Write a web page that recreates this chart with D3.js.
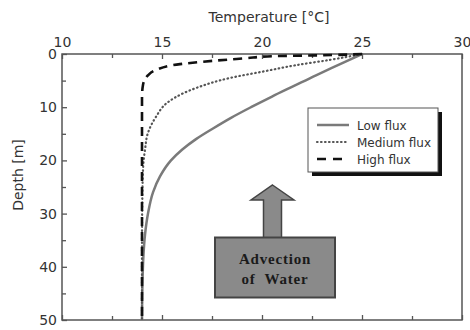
<!DOCTYPE html>
<html>
<head>
<meta charset="utf-8">
<script src="https://cdn.jsdelivr.net/npm/d3@7"></script>
<style>
  html, body { margin: 0; padding: 0; background: #fff; }
  svg { display: block; }
</style>
</head>
<body>
<svg id="chart" width="470" height="330"></svg>
<script>
// ---- Data ----
const xTicks = [10, 15, 20, 25, 30];
const xMinorTicks = [12.5, 17.5, 22.5, 27.5];
const yTicks = [0, 10, 20, 30, 40, 50];
const yMinorTicks = [5, 15, 25, 35, 45];

const seriesNames = ["Low flux", "Medium flux", "High flux"];

const lowDepth = [0, 2, 4, 6, 8, 10, 12, 14, 16, 18, 20, 23, 26, 30, 34, 38, 42, 50];
const lowTemp  = [25, 23.85, 22.7, 21.6, 20.5, 19.45, 18.45, 17.55, 16.7, 16.0, 15.45, 14.9, 14.55, 14.3, 14.15, 14.07, 14.03, 14.0];

const medDepth = [0, 1.1, 2.1, 3.3, 4.5, 6.4, 8.3, 9.2, 11.8, 14.8, 18, 21, 26, 35, 50];
const medTemp  = [25, 23.4, 21.7, 20.05, 18.4, 16.7, 15.6, 15.25, 14.7, 14.3, 14.15, 14.06, 14.02, 14.0, 14.0];

const highDepth = [0, 0.2, 0.4, 0.8, 1.45, 1.9, 3.0, 4.0, 5.8, 8, 50];
const highTemp  = [25, 23.5, 20.6, 19.2, 17.05, 15.9, 14.7, 14.3, 14.05, 14.0, 14.0];

const boxLines = ["Advection", "of  Water"];

// ---- Layout ----
const svg = d3.select("#chart");
const L = 62, R = 462, T = 54, B = 320;
const x = d3.scaleLinear().domain([10, 30]).range([L, R]);
const y = d3.scaleLinear().domain([0, 50]).range([T, B]);

const axisColor = "#555";
const textColor = "#333";
const font = "DejaVu Sans, Verdana, sans-serif";

// frame
svg.append("rect").attr("x", L).attr("y", T).attr("width", R - L).attr("height", B - T)
  .attr("fill", "none").attr("stroke", axisColor).attr("stroke-width", 1.5);

function styleAxis(g) {
  g.select(".domain").remove();
  g.selectAll(".tick line").attr("stroke", axisColor).attr("stroke-width", 1.3);
  g.selectAll("text").attr("fill", textColor).attr("font-family", font).attr("font-size", 14);
}

// top axis
svg.append("g").attr("transform", `translate(0,${T})`)
  .call(d3.axisTop(x).tickValues(xTicks).tickSize(-5).tickPadding(7).tickFormat(d3.format("d")))
  .call(styleAxis);
svg.append("g").attr("transform", `translate(0,${T})`)
  .call(d3.axisTop(x).tickValues(xMinorTicks).tickSize(-4).tickFormat(""))
  .call(styleAxis);
// bottom axis (ticks only)
svg.append("g").attr("transform", `translate(0,${B})`)
  .call(d3.axisBottom(x).tickValues(xTicks).tickSize(-5).tickFormat(""))
  .call(styleAxis);
svg.append("g").attr("transform", `translate(0,${B})`)
  .call(d3.axisBottom(x).tickValues(xMinorTicks).tickSize(-4).tickFormat(""))
  .call(styleAxis);
// left axis
svg.append("g").attr("transform", `translate(${L},0)`)
  .call(d3.axisLeft(y).tickValues(yTicks).tickSize(-5).tickPadding(5).tickFormat(d3.format("d")))
  .call(styleAxis);
svg.append("g").attr("transform", `translate(${L},0)`)
  .call(d3.axisLeft(y).tickValues(yMinorTicks).tickSize(-4).tickFormat(""))
  .call(styleAxis);

// axis titles
svg.append("text").attr("x", 269).attr("y", 22).attr("text-anchor", "middle")
  .attr("font-family", font).attr("font-size", 14).attr("fill", textColor)
  .text("Temperature [°C]");
svg.append("text").attr("transform", "translate(23,175) rotate(-90)").attr("text-anchor", "middle")
  .attr("font-family", font).attr("font-size", 14).attr("fill", textColor)
  .text("Depth [m]");

// curves
const line = d3.line().x(d => x(d[0])).y(d => y(d[1])).curve(d3.curveMonotoneY);
const series = [
  { name: seriesNames[0], pts: d3.zip(lowTemp, lowDepth), stroke: "#7a7a7a", width: 2.5, dash: null, cap: "butt" },
  { name: seriesNames[1], pts: d3.zip(medTemp, medDepth), stroke: "#555", width: 2.2, dash: "0.6,3.4", cap: "round" },
  { name: seriesNames[2], pts: d3.zip(highTemp, highDepth), stroke: "#111", width: 2.6, dash: "9,6", cap: "butt" }
];
series.forEach(s => {
  svg.append("path").attr("d", line(s.pts)).attr("fill", "none")
    .attr("stroke", s.stroke).attr("stroke-width", s.width)
    .attr("stroke-dasharray", s.dash).attr("stroke-linecap", s.cap);
});

// legend
const lg = svg.append("g");
lg.append("rect").attr("x", 312).attr("y", 112).attr("width", 130).attr("height", 64).attr("fill", "#111");
lg.append("rect").attr("x", 308).attr("y", 108).attr("width", 130).attr("height", 64)
  .attr("fill", "#fff").attr("stroke", "#555").attr("stroke-width", 1);
series.forEach((s, i) => {
  const yy = 125 + i * 17;
  lg.append("line").attr("x1", 317).attr("x2", 349).attr("y1", yy).attr("y2", yy)
    .attr("stroke", s.stroke).attr("stroke-width", s.width)
    .attr("stroke-dasharray", s.dash ? (i === 2 ? "9,7" : s.dash) : null)
    .attr("stroke-linecap", s.cap);
  lg.append("text").attr("x", 357).attr("y", yy + 4.5)
    .attr("font-family", font).attr("font-size", 12).attr("fill", textColor).text(s.name);
});

// advection arrow + box
const ag = svg.append("g");
ag.append("path")
  .attr("d", "M272.5,185 L294,200 L281.5,200 L281.5,238 L263.5,238 L263.5,200 L251,200 Z")
  .attr("fill", "#8a8a8a").attr("stroke", "#444").attr("stroke-width", 1.5);
ag.append("rect").attr("x", 215).attr("y", 237.5).attr("width", 120).attr("height", 60)
  .attr("fill", "#8a8a8a").attr("stroke", "#444").attr("stroke-width", 2);
boxLines.forEach((t, i) => {
  ag.append("text").attr("x", 275).attr("y", 264 + i * 20).attr("text-anchor", "middle")
    .attr("font-family", "Liberation Serif, Times New Roman, serif").attr("font-weight", "bold")
    .attr("font-size", 15).attr("letter-spacing", 0.8).attr("fill", "#1a1a1a")
    .attr("xml:space", "preserve").style("white-space", "pre").text(t);
});
</script>
</body>
</html>
